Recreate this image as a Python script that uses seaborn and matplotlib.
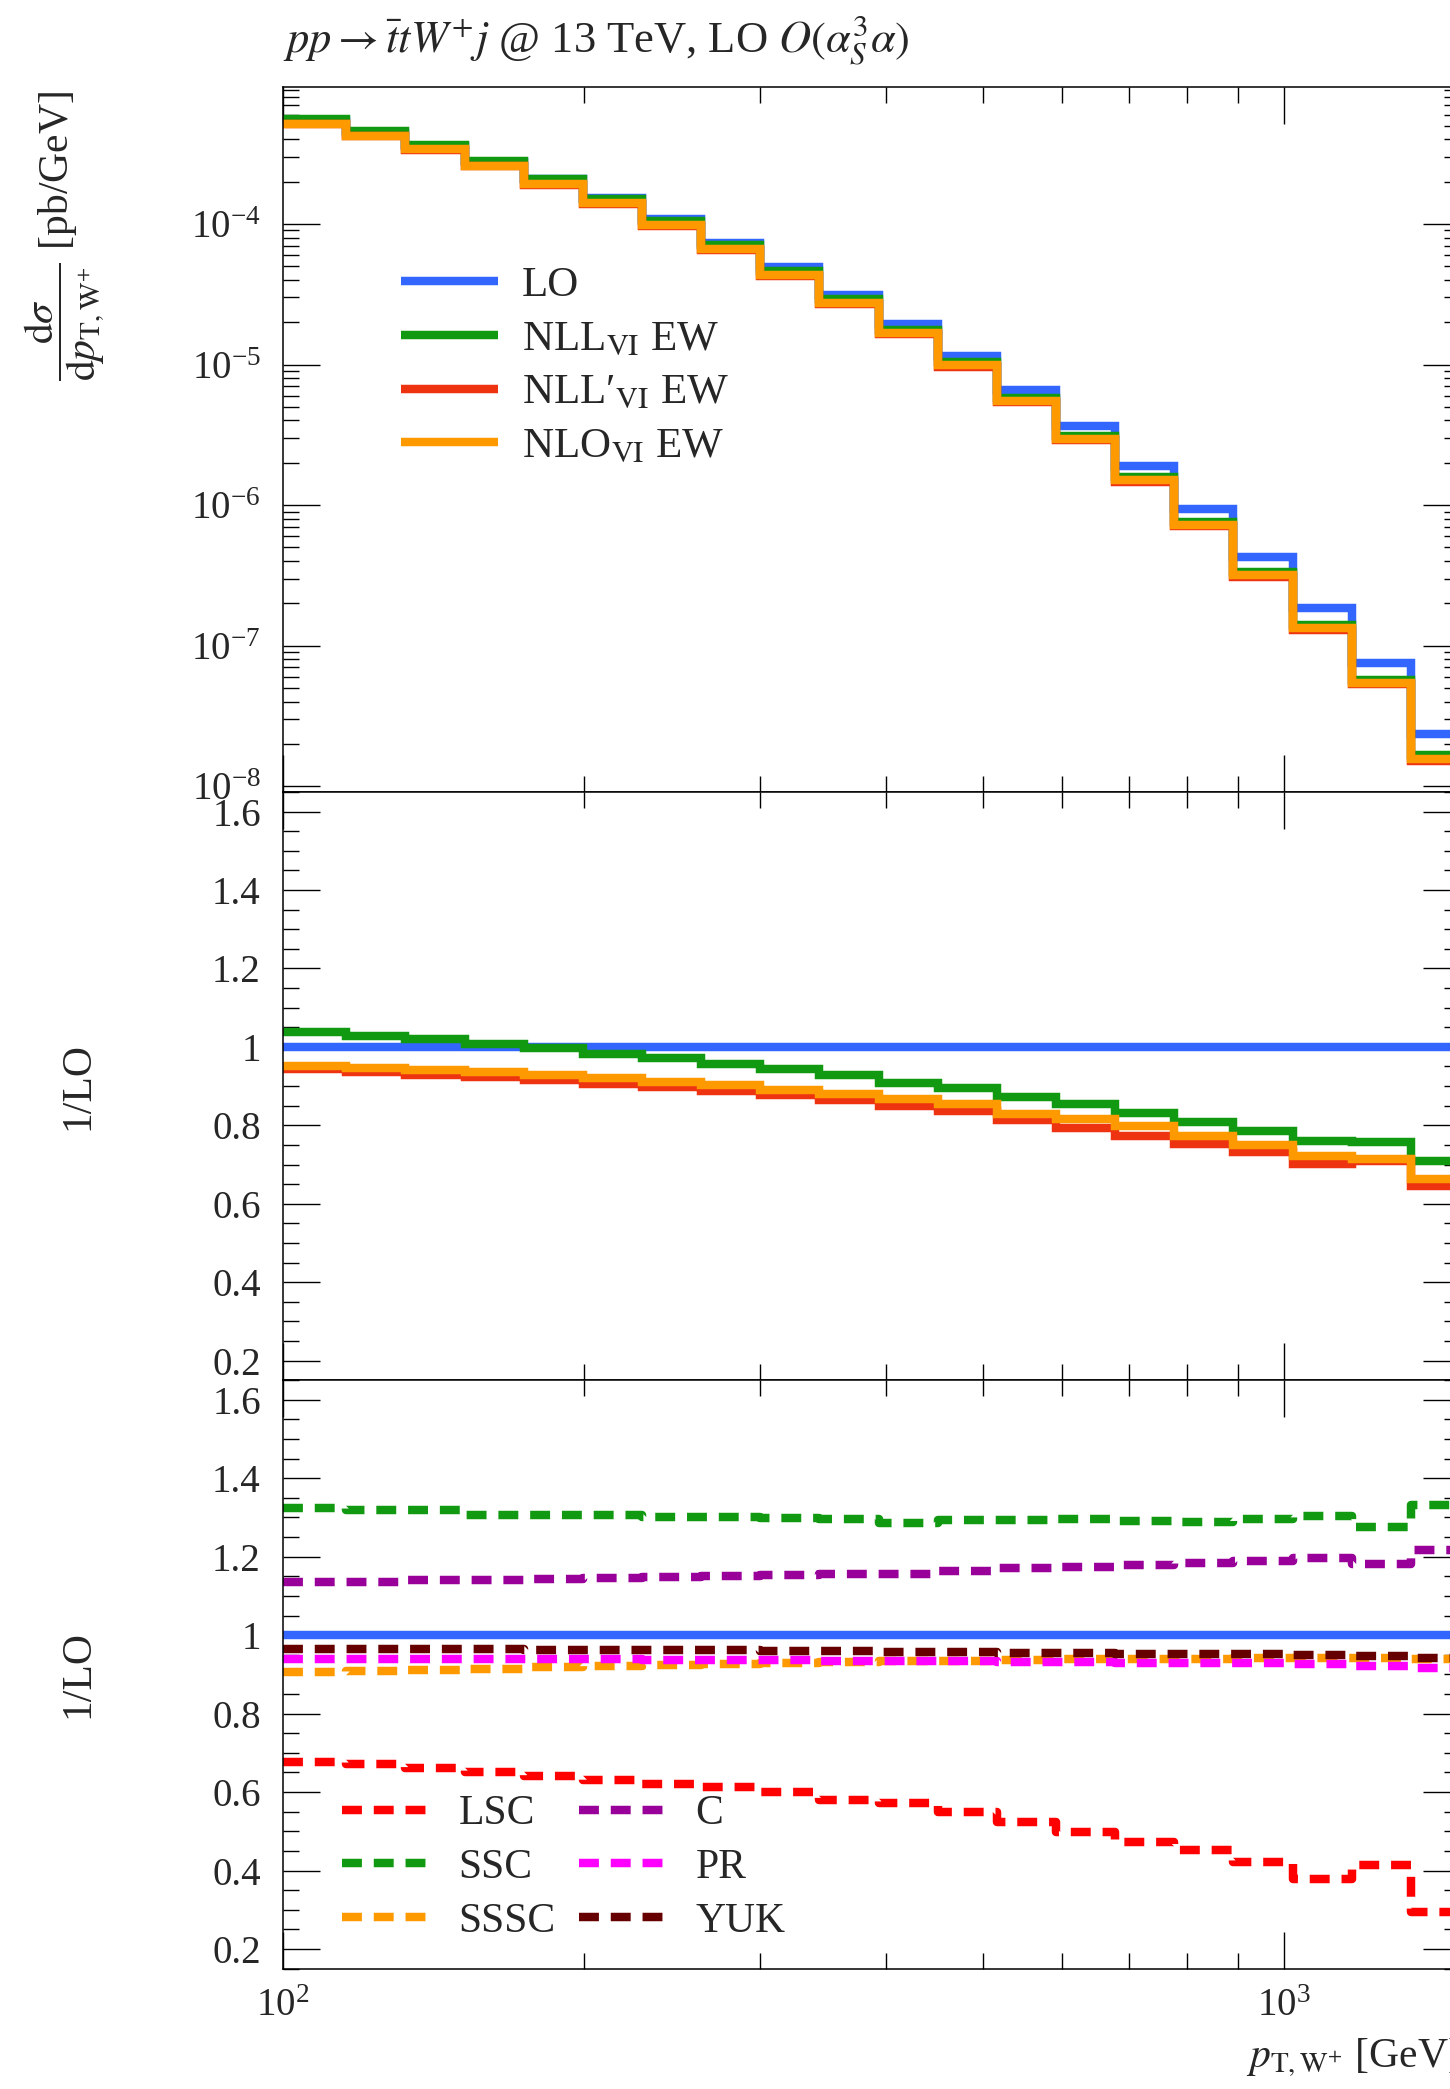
import numpy as np
import matplotlib
matplotlib.use("Agg")
import matplotlib.pyplot as plt
import seaborn as sns
from matplotlib.ticker import (LogLocator, MultipleLocator, NullFormatter,
                               LogFormatterMathtext, FuncFormatter)

# ---------------- data ----------------
bin_edges = [100, 115.7, 132.5, 151.9, 174.0, 199.4, 228.5, 261.7, 299.9, 343.6,
             393.7, 451.1, 516.8, 592.1, 678.5, 777.3, 890.6, 1020.5, 1169.2,
             1339.6, 1535]

lo_xsec = [5.42e-4, 4.47e-4, 3.60e-4, 2.78e-4, 2.08e-4, 1.524e-4, 1.079e-4,
           7.36e-5, 4.90e-5, 3.13e-5, 1.94e-5, 1.157e-5, 6.62e-6, 3.63e-6,
           1.89e-6, 9.37e-7, 4.24e-7, 1.84e-7, 7.57e-8, 2.35e-8]

ratio_nll = [1.037, 1.027, 1.020, 1.008, 0.996, 0.981, 0.971, 0.957, 0.944, 0.928,
             0.909, 0.895, 0.873, 0.855, 0.832, 0.808, 0.786, 0.760, 0.758, 0.709]
ratio_nllp = [0.943, 0.937, 0.929, 0.923, 0.916, 0.906, 0.898, 0.888, 0.877, 0.864,
              0.850, 0.836, 0.814, 0.794, 0.773, 0.753, 0.731, 0.701, 0.708, 0.645]
ratio_nlo = [0.951, 0.946, 0.941, 0.935, 0.929, 0.921, 0.911, 0.904, 0.891, 0.879,
             0.868, 0.854, 0.829, 0.816, 0.798, 0.774, 0.751, 0.723, 0.715, 0.664]

comp_lsc = [0.676, 0.671, 0.662, 0.651, 0.640, 0.630, 0.621, 0.612, 0.600, 0.580,
            0.572, 0.550, 0.525, 0.497, 0.473, 0.453, 0.421, 0.379, 0.413, 0.295]
comp_ssc = [1.324, 1.318, 1.319, 1.307, 1.307, 1.307, 1.302, 1.301, 1.298, 1.296,
            1.287, 1.293, 1.294, 1.296, 1.292, 1.288, 1.295, 1.304, 1.275, 1.331]
comp_sssc = [0.906, 0.909, 0.912, 0.915, 0.918, 0.921, 0.924, 0.927, 0.929, 0.931,
             0.933, 0.935, 0.936, 0.938, 0.939, 0.940, 0.941, 0.942, 0.942, 0.940]
comp_c = [1.136, 1.136, 1.140, 1.140, 1.142, 1.147, 1.149, 1.151, 1.153, 1.157,
          1.157, 1.163, 1.170, 1.174, 1.179, 1.185, 1.188, 1.196, 1.182, 1.216]
comp_pr = [0.939, 0.939, 0.939, 0.938, 0.938, 0.938, 0.937, 0.937, 0.936, 0.935,
           0.934, 0.933, 0.932, 0.931, 0.930, 0.929, 0.928, 0.927, 0.922, 0.916]
comp_yuk = [0.965, 0.965, 0.964, 0.964, 0.963, 0.963, 0.962, 0.961, 0.960, 0.959,
            0.958, 0.956, 0.955, 0.954, 0.953, 0.952, 0.951, 0.950, 0.947, 0.941]

top_labels = ["LO", r"NLL$_{\mathrm{VI}}$ EW", r"NLL′$_{\mathrm{VI}}$ EW",
              r"NLO$_{\mathrm{VI}}$ EW"]
comp_labels = ["LSC", "SSC", "SSSC", "C", "PR", "YUK"]

# ---------------- style ----------------
sns.set_theme(style="ticks")
plt.rcParams['font.family'] = ['Liberation Serif', 'DejaVu Serif']
plt.rcParams['mathtext.fontset'] = 'stix'
plt.rcParams['axes.linewidth'] = 1.1
plt.rcParams['lines.solid_joinstyle'] = 'miter'
plt.rcParams['lines.solid_capstyle'] = 'butt'

C_LO = '#3366FF'
C_NLL = '#119911'
C_NLLP = '#EE3311'
C_NLO = '#FF9900'
comp_colors = ['#FF0000', '#119911', '#FF9900', '#990099', '#FF00FF', '#660000']
LW = 6.1
DASH = (0, (2.35, 1.4))
FS = 30
TFS = 28

W, H = 1450, 2089
fig = plt.figure(figsize=(W / 100, H / 100), dpi=100)


def rect(x0, y0, x1, y1):
    return [x0 / W, 1 - y1 / H, (x1 - x0) / W, (y1 - y0) / H]


ax1 = fig.add_axes(rect(283, 86.5, 1460, 792))
ax2 = fig.add_axes(rect(283, 792, 1460, 1380.2))
ax3 = fig.add_axes(rect(283, 1380.2, 1460, 1968.6))

for ax in (ax1, ax2, ax3):
    ax.set_xscale('log')


def step(ax, vals, color, ls='-', label=None):
    y = list(vals) + [vals[-1]]
    sns.lineplot(x=bin_edges, y=y, ax=ax, drawstyle='steps-post', estimator=None,
                 sort=False, color=color, lw=LW, linestyle=ls, label=label,
                 legend=False)
    return ax.lines[-1]


lo = np.array(lo_xsec)
# top panel
h_top = []
h_top.append(step(ax1, lo, C_LO))
h_top.append(step(ax1, lo * np.array(ratio_nll), C_NLL))
h_top.append(step(ax1, lo * np.array(ratio_nllp), C_NLLP))
h_top.append(step(ax1, lo * np.array(ratio_nlo), C_NLO))
ax1.set_yscale('log')
ax1.set_ylim(9.1e-9, 9.5e-4)

# middle panel
step(ax2, lo / lo, C_LO)
step(ax2, ratio_nll, C_NLL)
step(ax2, ratio_nllp, C_NLLP)
step(ax2, ratio_nlo, C_NLO)

# bottom panel
step(ax3, lo / lo, C_LO)
h_comp = []
for vals, col in zip([comp_lsc, comp_ssc, comp_sssc, comp_c, comp_pr, comp_yuk],
                     comp_colors):
    h_comp.append(step(ax3, vals, col, ls=DASH))

for ax in (ax1, ax2, ax3):
    ax.set_xlim(100, 1500)
    ax.xaxis.set_major_locator(LogLocator(base=10))
    ax.xaxis.set_minor_locator(LogLocator(base=10, subs=np.arange(2, 10)))
    ax.xaxis.set_minor_formatter(NullFormatter())
    ax.tick_params(which='both', direction='in', top=True, right=True,
                   width=1.0, color='black')
    ax.tick_params(which='major', length=26.5)
    ax.tick_params(which='minor', length=11.5)
    ax.tick_params(axis='y', which='major', pad=16, labelsize=TFS)
    ax.tick_params(axis='x', which='major', pad=14, labelsize=TFS)
    ax.set_xlabel('')
    ax.set_ylabel('')
    for s in ax.spines.values():
        s.set_color('black')

ax1.yaxis.set_major_locator(LogLocator(base=10))
ax1.yaxis.set_minor_locator(LogLocator(base=10, subs=np.arange(2, 10)))
ax1.yaxis.set_major_formatter(LogFormatterMathtext())
ax1.yaxis.set_minor_formatter(NullFormatter())

for ax in (ax2, ax3):
    ax.set_ylim(0.15, 1.65)
    ax.yaxis.set_major_locator(MultipleLocator(0.2))
    ax.yaxis.set_minor_locator(MultipleLocator(0.05))
    ax.yaxis.set_major_formatter(FuncFormatter(lambda v, p: f"{v:g}"))

ax1.tick_params(axis='x', labelbottom=False)
ax2.tick_params(axis='x', labelbottom=False)
ax3.xaxis.set_major_formatter(LogFormatterMathtext())

# legends
ax1.legend(handles=h_top, labels=top_labels, loc='upper left',
           bbox_to_anchor=(401 / W, 1 - 266 / H), bbox_transform=fig.transFigure,
           frameon=False, fontsize=FS + 1, handlelength=2.25, handletextpad=0.55,
           labelspacing=0.34, borderpad=0, borderaxespad=0)
ax3.legend(handles=h_comp, labels=comp_labels, ncol=2, loc='upper left',
           bbox_to_anchor=(342 / W, 1 - 1795 / H), bbox_transform=fig.transFigure,
           frameon=False, fontsize=FS, handlelength=2.25, handletextpad=0.55,
           labelspacing=0.36, columnspacing=0.55, borderpad=0, borderaxespad=0)

# texts
fig.text(283 / W, 1 - 40 / H,
         r"$pp \rightarrow \bar{t}tW^{+}j$ @ 13 TeV, LO $O(\alpha_S^3\alpha)$",
         ha='left', va='center', fontsize=32)
fig.text(65 / W, 1 - 91 / H,
         r"$\dfrac{\mathrm{d}\sigma}{\mathrm{d}p_{\mathrm{T,W^{+}}}}$ [pb/GeV]",
         ha='center', va='top', rotation=90, fontsize=FS)
fig.text(78 / W, 1 - 1086 / H, "1/LO", ha='center', va='center', rotation=90,
         fontsize=FS)
fig.text(78 / W, 1 - 1674 / H, "1/LO", ha='center', va='center', rotation=90,
         fontsize=FS)
fig.text(1460 / W, 1 - 2058 / H, r"$p_{\mathrm{T,W^{+}}}$ [GeV]", ha='right',
         va='center', fontsize=FS)

fig.savefig("out.png", dpi=100)
